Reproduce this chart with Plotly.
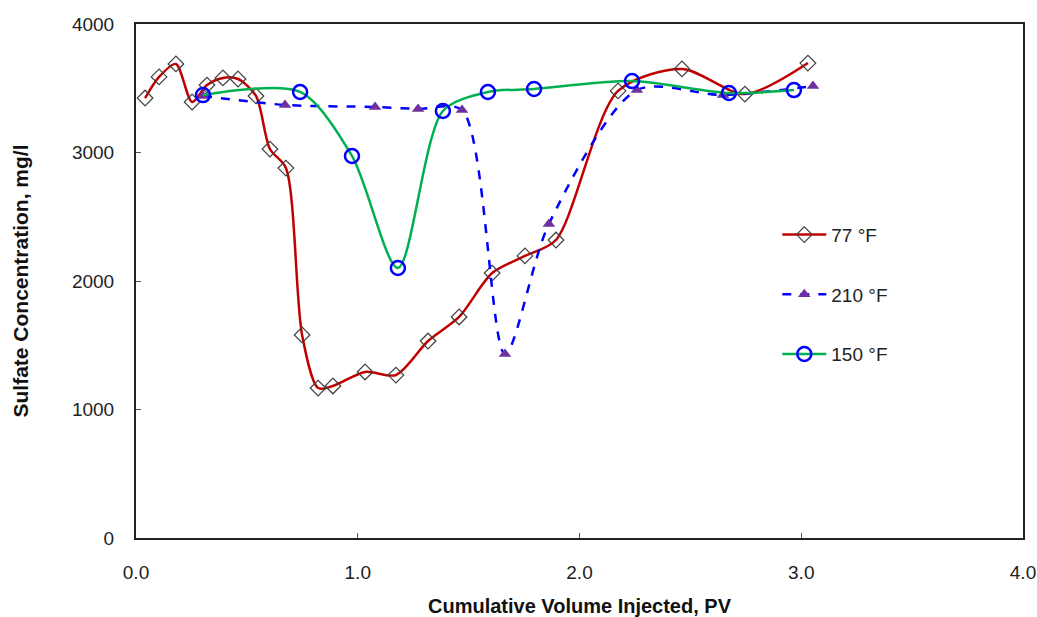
import plotly.graph_objects as go

# 77 °F series
pv_77 = [0.041, 0.104, 0.180, 0.253, 0.320, 0.392, 0.460, 0.541, 0.604, 0.676,
         0.749, 0.821, 0.888, 1.033, 1.172, 1.317, 1.457, 1.606, 1.754, 1.894,
         2.174, 2.462, 2.746, 3.030]
so4_77 = [3424, 3588, 3689, 3393, 3525, 3580, 3572, 3440, 3027, 2879,
          1580, 1167, 1183, 1292, 1268, 1533, 1720, 2062, 2195, 2319,
          3479, 3650, 3455, 3696]

# 210 °F series
pv_210 = [0.302, 0.672, 1.078, 1.272, 1.470, 1.664, 1.862, 2.259, 2.647, 3.053]
so4_210 = [3440, 3370, 3354, 3339, 3331, 1432, 2444, 3486, 3447, 3517]

# 150 °F series
pv_150 = [0.302, 0.740, 0.974, 1.181, 1.384, 1.587, 1.795, 2.237, 2.674, 2.967]
so4_150 = [3447, 3471, 2973, 2101, 3323, 3471, 3494, 3556, 3463, 3486]

x_ticks = [0, 1, 2, 3, 4]
x_tick_text = ["0.0", "1.0", "2.0", "3.0", "4.0"]
y_ticks = [0, 1000, 2000, 3000, 4000]

FONT = "Liberation Sans, Arial, sans-serif"

fig = go.Figure()
fig.add_trace(go.Scatter(
    x=pv_77, y=so4_77, name="77 °F", mode="lines+markers", legendgroup="a",
    line=dict(color="#C00000", width=2.5, shape="spline", smoothing=0.8),
    marker=dict(symbol="diamond", size=12, color="rgba(255,255,255,0)",
                line=dict(color="#404040", width=1.2)),
))
fig.add_trace(go.Scatter(
    x=pv_210, y=so4_210, name="210 °F", mode="lines+markers", legendgroup="b",
    line=dict(color="#0000FF", width=2.5, dash="dash", shape="spline", smoothing=0.8),
    marker=dict(symbol="triangle-up", size=11, color="#7030A0",
                line=dict(color="#7030A0", width=0)),
))
fig.add_trace(go.Scatter(
    x=pv_150, y=so4_150, name="150 °F", mode="lines+markers", legendgroup="c",
    line=dict(color="#00B050", width=2.5, shape="spline", smoothing=0.8),
    marker=dict(symbol="circle-open", size=14, color="#0000FF",
                line=dict(color="#0000FF", width=2.5)),
))

axis_common = dict(
    showgrid=False, zeroline=False, showline=True, linecolor="#222222",
    linewidth=2, mirror=True, ticks="inside", ticklen=5, tickcolor="#555555",
    tickwidth=1, tickfont=dict(family=FONT, size=19, color="#222222"),
    automargin=False,
)

fig.update_xaxes(range=[0, 4], tickvals=x_ticks, ticktext=x_tick_text,
                 ticklabelstandoff=16,
                 title=dict(text="<b>Cumulative Volume Injected, PV</b>",
                            font=dict(family=FONT, size=20, color="#111111"),
                            standoff=22),
                 **axis_common)
fig.update_yaxes(range=[0, 4000], tickvals=y_ticks,
                 ticklabelstandoff=16,
                 title=dict(text="<b>Sulfate Concentration, mg/l</b>",
                            font=dict(family=FONT, size=21, color="#111111"),
                            standoff=38),
                 **axis_common)

fig.update_layout(
    width=1037, height=617,
    margin=dict(l=136, r=14, t=24, b=79),
    paper_bgcolor="white", plot_bgcolor="white",
    showlegend=True,
    legend=dict(x=0.723, y=0.627, xanchor="left", yanchor="top",
                font=dict(family=FONT, size=19, color="#222222"),
                bgcolor="rgba(0,0,0,0)", tracegroupgap=32,
                itemwidth=44),
)

fig.write_html("out.html")
